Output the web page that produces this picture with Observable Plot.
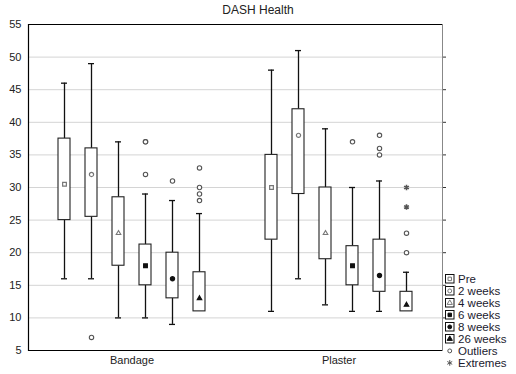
<!DOCTYPE html>
<html><head><meta charset="utf-8">
<script src="https://cdn.jsdelivr.net/npm/d3@7"></script>
<script src="https://cdn.jsdelivr.net/npm/@observablehq/plot@0.6"></script>
<style>
body{margin:0;background:#fff;font-family:"Liberation Sans",Arial,sans-serif;}
#wrap{position:relative;width:516px;height:374px;}
#title{height:18px;line-height:20px;text-align:center;font-size:12px;color:#222;}
#legend{position:absolute;left:445px;top:273px;font-size:11.5px;color:#1a1a2e;}
.row{height:12px;line-height:12px;display:flex;align-items:center;white-space:nowrap}
.row svg{margin-right:3px;flex:none}
</style></head><body>
<div id="wrap"><div id="title">DASH Health</div><div id="chart"></div><div id="legend"></div></div>
<script>
// ---- data ----
const categories = ["Bandage", "Plaster"];
const times = ["Pre", "2 weeks", "4 weeks", "6 weeks", "8 weeks", "26 weeks"];
const yTicks = [5, 10, 15, 20, 25, 30, 35, 40, 45, 50, 55];

const bandageMin    = [16, 16, 10, 10, 9, 11];
const bandageQ1     = [25, 25.5, 18, 15, 13, 11];
const bandageMedian = [30.5, 32, 23, 18, 16, 13];
const bandageQ3     = [37.5, 36, 28.5, 21.25, 20, 17];
const bandageMax    = [46, 49, 37, 29, 28, 26];

const plasterMin    = [11, 16, 12, 11, 11, 11];
const plasterQ1     = [22, 29, 19, 15, 14, 11];
const plasterMedian = [30, 38, 23, 18, 16.5, 12];
const plasterQ3     = [35, 42, 30, 21, 22, 14];
const plasterMax    = [48, 51, 39, 30, 31, 17];

const outlierCat   = ["Bandage","Bandage","Bandage","Bandage","Bandage","Bandage","Bandage","Bandage","Bandage","Plaster","Plaster","Plaster","Plaster","Plaster","Plaster"];
const outlierTime  = ["2 weeks","6 weeks","6 weeks","6 weeks","8 weeks","26 weeks","26 weeks","26 weeks","26 weeks","6 weeks","8 weeks","8 weeks","8 weeks","26 weeks","26 weeks"];
const outlierValue = [7, 37, 37, 32, 31, 33, 30, 29, 28, 37, 38, 36, 35, 23, 20];

const extremeCat   = ["Plaster", "Plaster"];
const extremeTime  = ["26 weeks", "26 weeks"];
const extremeValue = [30, 27];

// ---- styles ----
const markerSymbol = ["square", "circle", "triangle", "square", "circle", "triangle"];
const markerFill   = ["white", "white", "white", "#111", "#111", "#111"];
const markerStroke = ["#777", "#777", "#777", "#111", "#111", "#111"];

// ---- tables ----
const stats = {
  Bandage: {lo: bandageMin, q1: bandageQ1, med: bandageMedian, q3: bandageQ3, hi: bandageMax},
  Plaster: {lo: plasterMin, q1: plasterQ1, med: plasterMedian, q3: plasterQ3, hi: plasterMax}
};
const rows = [];
categories.forEach(c => times.forEach((t, i) => {
  const s = stats[c];
  rows.push({cat: c, time: t, i, lo: s.lo[i], q1: s.q1[i], med: s.med[i], q3: s.q3[i], hi: s.hi[i]});
}));
const outliers = outlierValue.map((v, k) => ({cat: outlierCat[k], time: outlierTime[k], v}));
const extremes = extremeValue.map((v, k) => ({cat: extremeCat[k], time: extremeTime[k], v}));
const isTri = d => markerSymbol[d.i] === "triangle";

const chart = Plot.plot({
  width: 516, height: 356,
  marginLeft: 28, marginRight: 74, marginTop: 6, marginBottom: 24,
  style: {fontFamily: "Liberation Sans, Arial, sans-serif", fontSize: "11px", background: "white", color: "#222"},
  fx: {domain: categories, padding: 0, axis: null, label: null},
  x: {domain: times, paddingInner: 0.565, paddingOuter: 1.03, axis: null},
  y: {domain: [5, 55], axis: null},
  marks: [
    Plot.gridY(yTicks.slice(1, -1), {stroke: "#d4d4d4", strokeOpacity: 1}),
    Plot.ruleY([5], {stroke: "black", strokeWidth: 1.2}),
    Plot.ruleY([55], {stroke: "black", strokeWidth: 1.2}),
    Plot.frame({anchor: "left", facetAnchor: "left", stroke: "black", strokeWidth: 1.2}),
    Plot.frame({anchor: "right", facetAnchor: "right", stroke: "#888"}),
    Plot.axisY(yTicks, {anchor: "left", tickSize: 0, tickPadding: 7, fontSize: 11, fill: "#222"}),
    Plot.axisY(yTicks.slice(1, -1), {anchor: "right", tickSize: 3, tickFormat: () => "", stroke: "#333"}),
    Plot.axisFx({anchor: "bottom", tickSize: 0, tickPadding: 6, label: null, fontSize: 11, fill: "#222"}),
    Plot.ruleX(rows.filter(d => d.lo < d.q1), {fx: "cat", x: "time", y1: "lo", y2: "q1", stroke: "#111", strokeWidth: 1.3}),
    Plot.ruleX(rows, {fx: "cat", x: "time", y1: "q3", y2: "hi", stroke: "#111", strokeWidth: 1.3}),
    Plot.tickY(rows.filter(d => d.lo < d.q1), {fx: "cat", x: "time", y: "lo", stroke: "#111", strokeWidth: 1.3, inset: 3}),
    Plot.tickY(rows, {fx: "cat", x: "time", y: "hi", stroke: "#111", strokeWidth: 1.3, inset: 3}),
    Plot.barY(rows, {fx: "cat", x: "time", y1: "q1", y2: "q3", fill: "white", stroke: "#222", strokeWidth: 1.1}),
    Plot.dot(rows.filter(d => !isTri(d)), {fx: "cat", x: "time", y: "med", symbol: d => markerSymbol[d.i], fill: d => markerFill[d.i], stroke: d => markerStroke[d.i], r: 2.1, strokeWidth: 1.2}),
    Plot.dot(rows.filter(isTri), {fx: "cat", x: "time", y: "med", symbol: "triangle", fill: d => markerFill[d.i], stroke: d => markerStroke[d.i], r: 1.7, strokeWidth: 1.1}),
    Plot.dot(outliers, {fx: "cat", x: "time", y: "v", r: 2.2, fill: "white", stroke: "#555", strokeWidth: 1.1}),
    Plot.dot(extremes, {fx: "cat", x: "time", y: "v", symbol: "asterisk", r: 2.6, stroke: "#555", strokeWidth: 1.6})
  ]
});
document.getElementById("chart").appendChild(chart);

// ---- legend ----
const symType = {square: d3.symbolSquare, circle: d3.symbolCircle, triangle: d3.symbolTriangle, asterisk: d3.symbolAsterisk};
const legend = document.getElementById("legend");
function icon(sym, fill, stroke, boxed) {
  const path = d3.symbol(symType[sym], sym === "asterisk" ? 22 : 12)();
  return `<svg width="10" height="10" viewBox="0 0 10 10">` +
    (boxed ? `<rect x="0.5" y="0.5" width="8.5" height="8.5" fill="white" stroke="#111"/>` : "") +
    `<path d="${path}" transform="translate(4.75,4.9)" fill="${fill}" stroke="${stroke}" stroke-width="1"/></svg>`;
}
times.forEach((t, i) => {
  const r = document.createElement("div"); r.className = "row";
  r.innerHTML = icon(markerSymbol[i], markerFill[i], markerStroke[i], true) + `<span>${t}</span>`;
  legend.appendChild(r);
});
[["Outliers", "circle", "white", "#555"], ["Extremes", "asterisk", "none", "#555"]].forEach(([t, s, f, st]) => {
  const r = document.createElement("div"); r.className = "row";
  r.innerHTML = icon(s, f, st, false) + `<span>${t}</span>`;
  legend.appendChild(r);
});
</script>
</body></html>
